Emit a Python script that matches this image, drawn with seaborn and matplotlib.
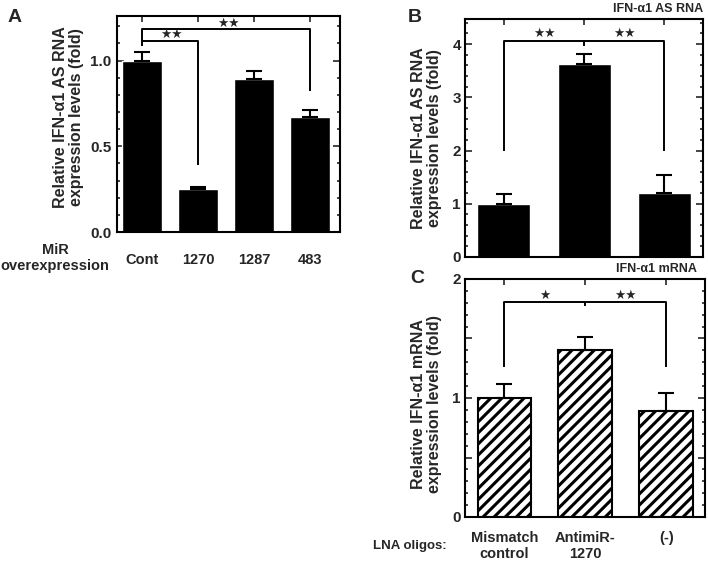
import matplotlib
matplotlib.use('Agg')
import matplotlib.pyplot as plt
import matplotlib.ticker as mticker
import seaborn as sns
import numpy as np

# panel A: miR overexpression
a_labels = ['Cont', '1270', '1287', '483']
a_means = [1.0, 0.25, 0.89, 0.67]
a_errs = [0.05, 0.012, 0.05, 0.04]

# panels B / C: LNA oligos
lna_labels = ['Mismatch\ncontrol', 'AntimiR-\n1270', '(-)']
b_means = [1.0, 3.63, 1.2]
b_errs = [0.19, 0.18, 0.34]
c_means = [1.0, 1.40, 0.89]
c_errs = [0.12, 0.11, 0.15]

sns.set_style('ticks')
plt.rcParams['font.family'] = ['Liberation Sans', 'DejaVu Sans']
plt.rcParams['font.weight'] = 'bold'
plt.rcParams['axes.labelweight'] = 'bold'
plt.rcParams['font.size'] = 10.5
plt.rcParams['axes.labelsize'] = 11.5
plt.rcParams['hatch.linewidth'] = 2.2
plt.rcParams['axes.linewidth'] = 1.5

fig = plt.figure(figsize=(7.08, 5.62), dpi=100)
W, H = 708.0, 562.0


def px_axes(left, top, right, bottom):
    return fig.add_axes([left / W, 1 - bottom / H, (right - left) / W, (bottom - top) / H])


def style_axes(ax, major, minor_n):
    ax.yaxis.set_major_locator(mticker.MultipleLocator(major))
    ax.yaxis.set_minor_locator(mticker.AutoMinorLocator(minor_n))
    ax.tick_params(axis='y', which='both', direction='in', left=True, right=True, width=1.2)
    ax.tick_params(axis='y', which='major', length=5, pad=3, labelsize=11)
    ax.tick_params(axis='y', which='minor', length=2.5)
    ax.tick_params(axis='x', which='both', direction='in', bottom=False, top=True,
                   length=4, width=1.2)
    for s in ax.spines.values():
        s.set_visible(True)
        s.set_linewidth(1.5)
        s.set_color('black')
    ax.set_xlabel('')


def bracket(ax, pts):
    xs, ys = zip(*pts)
    ax.plot(xs, ys, color='black', lw=1.4, clip_on=False, solid_capstyle='butt')


def stars(ax, x, y, s):
    ax.text(x, y, s, ha='center', va='center', fontsize=9, family=['DejaVu Sans'])


# ---- Panel A ----
axA = px_axes(117, 16, 340, 232)
sns.barplot(x=a_labels, y=a_means, color='black', saturation=1, width=0.71, ax=axA)
axA.errorbar(range(4), a_means, yerr=[np.zeros(4), a_errs], fmt='none', ecolor='black',
             elinewidth=1.5, capsize=6, capthick=1.5)
axA.set_xlim(-0.45, 3.54)
axA.set_ylim(0, 1.26)
style_axes(axA, 0.5, 5)
axA.yaxis.set_major_formatter(mticker.FormatStrFormatter('%.1f'))
axA.tick_params(axis='y', pad=4)
axA.tick_params(axis='x', pad=15)
axA.set_ylabel('Relative IFN-\u03b11 AS RNA\nexpression levels (fold)', linespacing=1.1)
axA.yaxis.set_label_coords(-0.148, 0.53)
bracket(axA, [(0, 1.085), (0, 1.115), (1, 1.115), (1, 0.39)])
bracket(axA, [(0, 1.115), (0, 1.185), (3, 1.185), (3, 0.82)])
stars(axA, 0.52, 1.15, '\u2605\u2605')
stars(axA, 1.55, 1.218, '\u2605\u2605')
fig.text(15 / W, 1 - 17 / H, 'A', fontsize=14, ha='center', va='center', weight='bold')
fig.text(55 / W, 1 - 258 / H, 'MiR\noverexpression', ha='center', va='center',
         linespacing=1.1)

# ---- Panel B ----
axB = px_axes(465, 19, 703, 257)
sns.barplot(x=lna_labels, y=b_means, color='black', saturation=1, width=0.66, ax=axB)
axB.errorbar(range(3), b_means, yerr=[np.zeros(3), b_errs], fmt='none', ecolor='black',
             elinewidth=1.5, capsize=6, capthick=1.5)
axB.set_xlim(-0.485, 2.48)
axB.set_ylim(0, 4.47)
style_axes(axB, 1, 5)
axB.set_xticklabels([])
axB.set_ylabel('Relative IFN-\u03b11 AS RNA\nexpression levels (fold)', linespacing=1.1)
axB.yaxis.set_label_coords(-0.097, 0.5)
bracket(axB, [(0, 2.0), (0, 4.05), (2, 4.05), (2, 2.0)])
bracket(axB, [(1, 4.05), (1, 3.97)])
stars(axB, 0.5, 4.19, '\u2605\u2605')
stars(axB, 1.5, 4.19, '\u2605\u2605')
axB.text(1.0, 1.015, 'IFN-\u03b11 AS RNA', transform=axB.transAxes, ha='right', va='bottom',
         fontsize=9)
fig.text(415 / W, 1 - 18 / H, 'B', fontsize=14, ha='center', va='center', weight='bold')

# ---- Panel C ----
axC = px_axes(465, 279, 705, 517)
sns.barplot(x=lna_labels, y=c_means, color='white', saturation=1, width=0.66, ax=axC,
            edgecolor='black', linewidth=1.5, hatch='///')
axC.errorbar(range(3), c_means, yerr=[np.zeros(3), c_errs], fmt='none', ecolor='black',
             elinewidth=1.5, capsize=6, capthick=1.5)
axC.set_xlim(-0.485, 2.48)
axC.set_ylim(0, 2)
style_axes(axC, 0.5, 5)
axC.yaxis.set_major_formatter(mticker.FuncFormatter(
    lambda v, p: '%d' % round(v) if abs(v - round(v)) < 1e-6 else ''))
axC.tick_params(axis='x', pad=10)
for t in axC.get_xticklabels():
    t.set_linespacing(1.15)
axC.set_ylabel('Relative IFN-\u03b11 mRNA\nexpression levels (fold)', linespacing=1.1)
axC.yaxis.set_label_coords(-0.095, 0.476)
bracket(axC, [(0, 1.26), (0, 1.81), (2, 1.81), (2, 1.26)])
bracket(axC, [(1, 1.81), (1, 1.77)])
stars(axC, 0.5, 1.865, '\u2605')
stars(axC, 1.5, 1.865, '\u2605\u2605')
axC.text(0.965, 1.015, 'IFN-\u03b11 mRNA', transform=axC.transAxes, ha='right', va='bottom',
         fontsize=9)
fig.text(417 / W, 1 - 278 / H, 'C', fontsize=14, ha='center', va='center', weight='bold')
fig.text(447 / W, 1 - 546 / H, 'LNA oligos:', ha='right', va='center', fontsize=9.5)

fig.savefig('out.png', dpi=100)
